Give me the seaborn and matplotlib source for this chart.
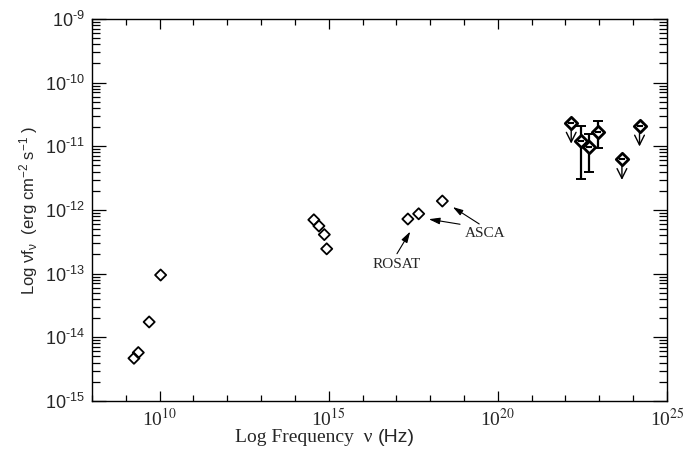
import numpy as np
import matplotlib
matplotlib.use("Agg")
import matplotlib.pyplot as plt
import matplotlib.transforms as mtransforms
from matplotlib.ticker import LogLocator, NullFormatter
import seaborn as sns

# radio / optical / X-ray points (Hz, erg cm^-2 s^-1)
radio_freq = [1.74e9, 2.34e9, 4.9e9, 1.07e10]
radio_flux = [4.68e-15, 5.75e-15, 1.74e-14, 9.5e-14]
opt_freq = [3.63e14, 5.13e14, 7.41e14, 8.71e14]
opt_flux = [7.0e-13, 5.6e-13, 4.1e-13, 2.45e-13]
xray_freq = [2.19e17, 4.57e17, 2.29e18]
xray_flux = [7.2e-13, 8.7e-13, 1.38e-12]

# gamma-ray detections with error bars
gam_freq = [2.82e22, 5.13e22, 9.33e22]
gam_flux = [1.22e-11, 9.9e-12, 1.70e-11]
gam_lo = [3.05e-12, 3.9e-12, 9.55e-12]
gam_hi = [2.11e-11, 1.55e-11, 2.45e-11]

# gamma-ray upper limits
ul_freq = [1.48e22, 4.68e23, 1.55e24]
ul_flux = [2.34e-11, 6.3e-12, 2.11e-11]

x_ticks = [1e10, 1e15, 1e20, 1e25]
x_ticklabels = ["10$^{10}$", "10$^{15}$", "10$^{20}$", "10$^{25}$"]
y_ticks = [1e-15, 1e-14, 1e-13, 1e-12, 1e-11, 1e-10, 1e-9]
y_ticklabels = [r"10$^{\text{-15}}$", r"10$^{\text{-14}}$", r"10$^{\text{-13}}$",
                r"10$^{\text{-12}}$", r"10$^{\text{-11}}$", r"10$^{\text{-10}}$",
                r"10$^{\text{-9}}$"]

sns.set_style("ticks")
plt.rcParams["font.family"] = ["Liberation Sans", "DejaVu Sans"]
plt.rcParams["mathtext.fontset"] = "custom"
plt.rcParams["mathtext.rm"] = "Liberation Sans"
plt.rcParams["mathtext.it"] = "Liberation Sans:italic"

fig = plt.figure(figsize=(6.84, 4.51), dpi=100)
ax = fig.add_axes([0.1345, 0.111, 0.8405, 0.847])

low_x = radio_freq + opt_freq + xray_freq
low_y = radio_flux + opt_flux + xray_flux
sns.scatterplot(x=low_x, y=low_y, marker="D", s=32, facecolors="none",
                edgecolors="black", linewidth=1.3, ax=ax, zorder=3)

# gamma detections
yerr = [np.array(gam_flux) - np.array(gam_lo), np.array(gam_hi) - np.array(gam_flux)]
ax.errorbar(gam_freq, gam_flux, yerr=yerr, fmt="none", ecolor="black",
            elinewidth=1.6, capsize=3.5, capthick=1.4, zorder=2)
g_x = gam_freq + ul_freq
g_y = gam_flux + ul_flux
sns.scatterplot(x=g_x, y=g_y, marker="D", s=40, facecolors="white",
                edgecolors="black", linewidth=2.0, ax=ax, zorder=4)
ax.scatter(g_x, g_y, marker="_", s=25, color="black", linewidths=1.5, zorder=5)

# upper limit arrows
down = mtransforms.offset_copy(ax.transData, fig=fig, x=0, y=-15, units="points")
for fx, fy in zip(ul_freq, ul_flux):
    ax.annotate("", xy=(fx, fy), xycoords=down, xytext=(fx, fy), textcoords="data",
                arrowprops=dict(arrowstyle="->,head_length=0.7,head_width=0.35",
                                color="black", lw=1.0, shrinkA=4, shrinkB=0))

# ROSAT / ASCA labels
head = "-|>,head_length=0.6,head_width=0.18"
ax.annotate("ROSAT", xy=(10**17.41, 10**-12.34), xytext=(10**17.01, 10**-12.86),
            ha="center", va="center", fontsize=11, family="Liberation Serif",
            arrowprops=dict(arrowstyle=head, color="black", lw=0.8,
                            shrinkA=1, shrinkB=0, relpos=(0.45, 1.0)))
ax.annotate("ASCA", xy=(10**17.96, 10**-12.145), xytext=(10**19.62, 10**-12.37),
            ha="center", va="center", fontsize=11, family="Liberation Serif",
            arrowprops=dict(arrowstyle=head, color="black", lw=0.8,
                            shrinkA=1, shrinkB=0, relpos=(0.3, 1.0)))
ax.annotate("", xy=(10**18.67, 10**-11.955), xytext=(10**19.45, 10**-12.22),
            arrowprops=dict(arrowstyle=head, color="black", lw=0.8,
                            shrinkA=0, shrinkB=0))

ax.set_xscale("log")
ax.set_yscale("log")
ax.set_xlim(1e8, 1e25)
ax.set_ylim(1e-15, 1e-9)

ax.set_xticks(x_ticks)
ax.set_xticklabels(x_ticklabels, family="Liberation Serif", math_fontfamily="stix", fontsize=14)
ax.xaxis.set_minor_locator(LogLocator(base=10, subs=(1.0,), numticks=30))
ax.xaxis.set_minor_formatter(NullFormatter())
ax.set_yticks(y_ticks)
ax.set_yticklabels(y_ticklabels, fontsize=13)
ax.yaxis.set_minor_locator(LogLocator(base=10, subs=np.arange(2, 10), numticks=30))
ax.yaxis.set_minor_formatter(NullFormatter())

ax.tick_params(axis="both", which="both", direction="in", top=True, right=True,
               color="black", width=0.9)
ax.tick_params(axis="x", which="major", length=7, pad=5)
ax.tick_params(axis="x", which="minor", length=4)
ax.tick_params(axis="y", which="major", length=10, pad=5)
ax.tick_params(axis="y", which="minor", length=6)
for side in ax.spines.values():
    side.set_linewidth(1.0)
    side.set_color("black")

ax.set_ylabel("Log \u03bdf$_\\mathrm{\u03bd}$  (erg cm$^{-2}$ s$^{-1}$ )", fontsize=12)
ax.yaxis.set_label_coords(-0.09, 0.5)
ax.set_xlabel("")
fig.text(0.545, 0.012, "Log Frequency  \u03bd", family="Liberation Serif", fontsize=14,
         ha="right", va="bottom")
fig.text(0.552, 0.012, "(Hz)", family="Liberation Sans", fontsize=14,
         ha="left", va="bottom")

fig.savefig("out.png", dpi=100)
